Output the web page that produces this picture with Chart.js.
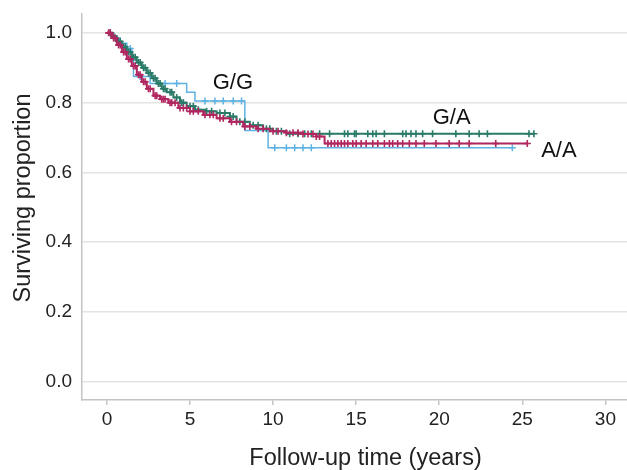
<!DOCTYPE html>
<html>
<head>
<meta charset="utf-8">
<script src="https://cdn.jsdelivr.net/npm/chart.js@4"></script>
<style>
  body { margin: 0; background: #fff; }
</style>
</head>
<body>
<canvas id="km" width="627" height="470"></canvas>
<script>
// Kaplan-Meier steps: time (years) and surviving proportion
const ggTime = [0, 0.4, 0.8, 1.2, 1.5, 1.6, 2.6, 4.8, 5.3, 8.3, 9.7, 24.4];
const ggSurv = [1.0, 0.985, 0.97, 0.955, 0.935, 0.875, 0.855, 0.83, 0.805, 0.72, 0.671, 0.671];
const ggCensor = [0.5, 1.4, 2.0, 3.5, 4.2, 5.9, 6.5, 7.0, 7.6, 8.1, 10.1, 10.8, 11.3, 11.8, 12.3, 24.4];

const gaTime = [0, 0.3, 0.6, 0.9, 1.2, 1.5, 1.8, 2.1, 2.4, 2.7, 3.0, 3.3, 3.6, 4.0, 4.4, 4.8, 5.3, 5.9, 6.6, 7.4, 7.8, 8.6, 9.4, 10.0, 10.8, 25.7];
const gaSurv = [1.0, 0.99, 0.975, 0.96, 0.945, 0.93, 0.915, 0.9, 0.885, 0.87, 0.855, 0.84, 0.83, 0.815, 0.8, 0.79, 0.78, 0.775, 0.77, 0.76, 0.745, 0.735, 0.725, 0.718, 0.711, 0.711];
const gaCensor = [0.2, 0.4, 0.7, 0.8, 1.0, 1.1, 1.3, 1.4, 1.6, 1.7, 1.9, 2.0, 2.2, 2.3, 2.5, 2.6, 2.8, 2.9, 3.1, 3.2, 3.4, 3.5, 3.8, 3.9, 4.2, 4.5, 4.6, 5.0, 5.2, 5.5, 6.0, 6.3, 6.8, 7.1, 7.4, 7.6, 8.0, 8.3, 8.8, 9.1, 9.6, 9.8, 10.2, 10.5, 11.0, 11.5, 11.9, 12.3, 12.8, 13.4, 14.3, 14.5, 14.9, 15.0, 15.7, 16.0, 16.2, 16.7, 17.8, 18.0, 18.3, 18.6, 19.0, 19.6, 21.0, 21.8, 22.4, 22.9, 25.4, 25.7];

const aaTime = [0, 0.3, 0.6, 0.9, 1.2, 1.5, 1.8, 2.1, 2.4, 2.8, 3.2, 3.7, 4.3, 5.0, 5.8, 6.6, 7.4, 8.2, 9.0, 9.8, 10.8, 11.8, 12.6, 13.1, 25.3];
const aaSurv = [1.0, 0.985, 0.965, 0.945, 0.925, 0.905, 0.88, 0.86, 0.84, 0.82, 0.81, 0.8, 0.785, 0.775, 0.765, 0.755, 0.745, 0.732, 0.725, 0.718, 0.714, 0.71, 0.703, 0.683, 0.683];
const aaCensor = [0.1, 0.2, 0.4, 0.5, 0.7, 0.8, 1.0, 1.1, 1.3, 1.4, 1.6, 1.7, 1.9, 2.0, 2.2, 2.3, 2.5, 2.6, 2.9, 3.0, 3.3, 3.4, 3.5, 3.8, 3.9, 4.1, 4.4, 4.6, 4.8, 5.0, 5.2, 5.5, 5.9, 6.2, 6.4, 6.8, 7.0, 7.5, 7.8, 8.3, 8.6, 9.1, 9.4, 10.0, 10.3, 10.8, 11.2, 11.5, 11.8, 12.1, 12.4, 12.6, 12.8, 13.3, 13.5, 13.7, 13.9, 14.1, 14.3, 14.5, 14.8, 15.0, 15.3, 15.6, 16.0, 16.3, 16.7, 17.0, 17.2, 17.5, 17.8, 18.2, 18.6, 19.1, 19.8, 20.6, 21.2, 21.8, 23.4, 25.3];

const xTicks = [0, 5, 10, 15, 20, 25, 30];
const yTicks = [0, 0.2, 0.4, 0.6, 0.8, 1.0];

// value of the step curve at time t
function survAt(times, surv, t) {
    let s = surv[0];
    for (let i = 0; i < times.length; i++) {
        if (times[i] <= t) s = surv[i];
    }
    return s;
}

function stepSeries(times, surv) {
    return times.map((t, i) => ({ x: t, y: surv[i] }));
}

function censorSeries(times, surv, censor) {
    return censor.map(t => ({ x: t, y: survAt(times, surv, t) }));
}

const blue = '#5fb2e3';
const green = '#2a7a68';
const magenta = '#b0265f';
const fontFamily = '"Liberation Sans", Arial, sans-serif';

// group names next to the curves, and the two axis titles
const textLayer = {
    id: 'textLayer',
    afterDraw(chart) {
        const { ctx, chartArea, scales: { x, y } } = chart;
        const items = [
            { text: 'G/G', x: 7.58, y: 0.84 },
            { text: 'G/A', x: 20.75, y: 0.74 },
            { text: 'A/A', x: 27.2, y: 0.643 }
        ];
        ctx.save();
        ctx.fillStyle = '#111';
        ctx.font = '22px ' + fontFamily;
        ctx.textAlign = 'center';
        ctx.textBaseline = 'alphabetic';
        items.forEach(it => ctx.fillText(it.text, x.getPixelForValue(it.x), y.getPixelForValue(it.y)));

        ctx.fillStyle = '#222';
        ctx.font = '23.5px ' + fontFamily;
        ctx.textBaseline = 'middle';
        ctx.fillText('Follow-up time (years)', (chartArea.left + chartArea.right) / 2 + 11, chart.height - 11.5);
        ctx.translate(23.5, (chartArea.top + chartArea.bottom) / 2 - 9);
        ctx.rotate(-Math.PI / 2);
        ctx.fillText('Surviving proportion', 0, 0);
        ctx.restore();
    }
};

const tickFont = { family: fontFamily, size: 19 };

new Chart(document.getElementById('km'), {
    type: 'line',
    data: {
        datasets: [
            { data: stepSeries(aaTime, aaSurv), borderColor: magenta, borderWidth: 2, stepped: true, pointRadius: 0 },
            { data: censorSeries(aaTime, aaSurv, aaCensor), showLine: false, pointStyle: 'cross', pointRadius: 3.5, borderColor: magenta, pointBorderWidth: 1.6 },
            { data: stepSeries(gaTime, gaSurv), borderColor: green, borderWidth: 2, stepped: true, pointRadius: 0 },
            { data: censorSeries(gaTime, gaSurv, gaCensor), showLine: false, pointStyle: 'cross', pointRadius: 3.5, borderColor: green, pointBorderWidth: 1.6 },
            { data: stepSeries(ggTime, ggSurv), borderColor: blue, borderWidth: 1.5, stepped: true, pointRadius: 0 },
            { data: censorSeries(ggTime, ggSurv, ggCensor), showLine: false, pointStyle: 'cross', pointRadius: 3.5, borderColor: blue, pointBorderWidth: 1.5 }
        ]
    },
    options: {
        responsive: false,
        animation: false,
        devicePixelRatio: 1,
        layout: { autoPadding: false, padding: { top: 14, right: 0, left: 0, bottom: 0 } },
        plugins: { legend: { display: false }, tooltip: { enabled: false } },
        scales: {
            x: {
                type: 'linear',
                min: -1.5,
                max: 31.3,
                afterBuildTicks: s => { s.ticks = xTicks.map(v => ({ value: v })); },
                afterFit: s => { s.height = 70; s.paddingLeft = 0; s.paddingRight = 0; },
                ticks: { color: '#222', font: tickFont, padding: 3, maxRotation: 0 },
                grid: { drawOnChartArea: false, drawTicks: true, tickLength: 5, color: '#c4c4c4', lineWidth: 1.5 },
                border: { color: '#c4c4c4', width: 1.5 }
            },
            y: {
                min: -0.052,
                max: 1.054,
                afterBuildTicks: s => { s.ticks = yTicks.map(v => ({ value: v })); },
                afterFit: s => { s.width = 82; s.paddingTop = 0; s.paddingBottom = 0; },
                ticks: { color: '#222', font: tickFont, padding: 10, callback: v => v.toFixed(1) },
                grid: { drawTicks: false, color: '#e4e4e1', lineWidth: 1.5 },
                border: { color: '#c4c4c4', width: 1.5 }
            }
        }
    },
    plugins: [textLayer]
});
</script>
</body>
</html>
